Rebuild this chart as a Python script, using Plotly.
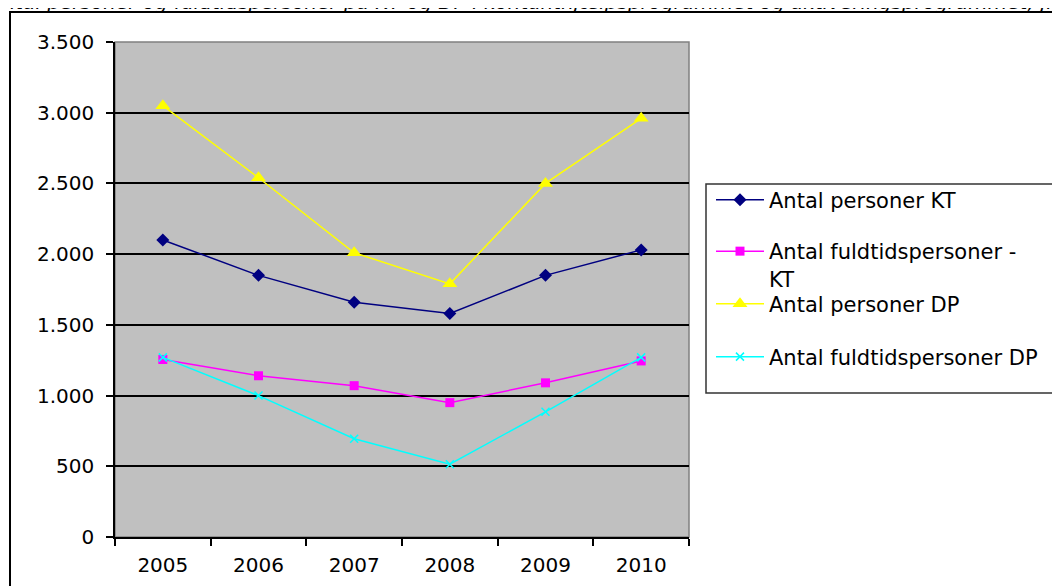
import plotly.graph_objects as go

years = ["2005", "2006", "2007", "2008", "2009", "2010"]
personer_kt = [2100, 1850, 1660, 1580, 1850, 2030]
fuldtid_kt = [1255, 1140, 1070, 950, 1090, 1245]
personer_dp = [3050, 2540, 2010, 1790, 2500, 2960]
fuldtid_dp = [1270, 1000, 695, 515, 885, 1270]

names = ["Antal personer KT", "Antal fuldtidspersoner -<br>KT", "Antal personer DP", "Antal fuldtidspersoner DP"]
title_text = "Antal personer og fuldtidspersoner på KT og DP i kontanthjælpsprogrammet og aktiveringsprogrammet, jf. tabel"

FONT = "DejaVu Sans, Verdana, sans-serif"
FS_TICK = 20
FS_LEG = 21

# page offset of the figure (browser body margin)
OFF = 8
# plot area in screen pixels
L, R, T, B = 115, 689, 42, 537
W, H = R - L, B - T
def px(x): return (x - L) / W
def py(y): return (B - y) / H

fig = go.Figure()
fig.add_trace(go.Scatter(x=years, y=personer_kt, name=names[0], mode="lines+markers",
                         line=dict(color="#000080", width=1.5),
                         marker=dict(symbol="diamond", size=10, color="#000080"), legend="legend"))
fig.add_trace(go.Scatter(x=years, y=fuldtid_kt, name=names[1], mode="lines+markers",
                         line=dict(color="#FF00FF", width=1.5),
                         marker=dict(symbol="square", size=9, color="#FF00FF"), legend="legend2"))
fig.add_trace(go.Scatter(x=years, y=personer_dp, name=names[2], mode="lines+markers",
                         line=dict(color="#FFFF00", width=1.5),
                         marker=dict(symbol="triangle-up", size=13, color="#FFFF00"), legend="legend3"))
fig.add_trace(go.Scatter(x=years, y=fuldtid_dp, name=names[3], mode="lines+markers",
                         line=dict(color="#00FFFF", width=1.5),
                         marker=dict(symbol="x-thin", size=8, color="#00FFFF",
                                     line=dict(color="#00FFFF", width=1.5)), legend="legend4"))

def leg(ycenter, yanchor="middle"):
    return dict(x=px(711), xanchor="left", y=py(ycenter), yanchor=yanchor,
                bgcolor="rgba(0,0,0,0)", borderwidth=0, itemwidth=48,
                font=dict(family=FONT, size=FS_LEG, color="black"),
                itemclick=False, itemdoubleclick=False, valign="top")

fig.update_layout(
    width=1060, height=586,
    margin=dict(l=L - OFF, r=1060 - (R - OFF), t=T - OFF, b=586 - (B - OFF)),
    paper_bgcolor="white", plot_bgcolor="#C0C0C0",
    separators=",.",
    font=dict(family=FONT, size=FS_TICK, color="black"),
    showlegend=True,
    legend=leg(200),
    legend2=leg(231, "top"),
    legend3=leg(304),
    legend4=leg(357),
    xaxis=dict(type="category", range=[-0.5, 5.5], tickson="boundaries",
               ticks="outside", ticklen=7, tickcolor="black", tickwidth=1.5,
               showline=True, linecolor="black", linewidth=1.5,
               showgrid=False, zeroline=False, ticklabelstandoff=9,
               tickfont=dict(family=FONT, size=FS_TICK, color="black")),
    yaxis=dict(range=[0, 3500], dtick=500, tick0=0, tickformat=",d",
               ticks="outside", ticklen=7, tickcolor="black", tickwidth=1.5,
               showline=True, linecolor="black", linewidth=1.5,
               showgrid=True, gridcolor="black", gridwidth=1.5, zeroline=False,
               ticklabelstandoff=8,
               tickfont=dict(family=FONT, size=FS_TICK, color="black")),
    shapes=[
        dict(type="rect", xref="paper", yref="paper", x0=0, x1=1, y0=0, y1=1,
             line=dict(color="#808080", width=1.5), layer="below"),
        dict(type="rect", xref="paper", yref="paper", x0=px(10), x1=px(1085), y0=py(610), y1=py(12),
             line=dict(color="black", width=2)),
        dict(type="rect", xref="paper", yref="paper", x0=px(706), x1=px(1085), y0=py(393), y1=py(184),
             line=dict(color="#333333", width=1.5)),
    ],
    annotations=[
        dict(text="<i>" + title_text + "</i>", xref="paper", yref="paper",
             x=px(-15), y=py(16), xanchor="left", yanchor="bottom", showarrow=False,
             font=dict(family=FONT, size=FS_TICK, color="black")),
    ],
)

fig.write_html("out.html")
